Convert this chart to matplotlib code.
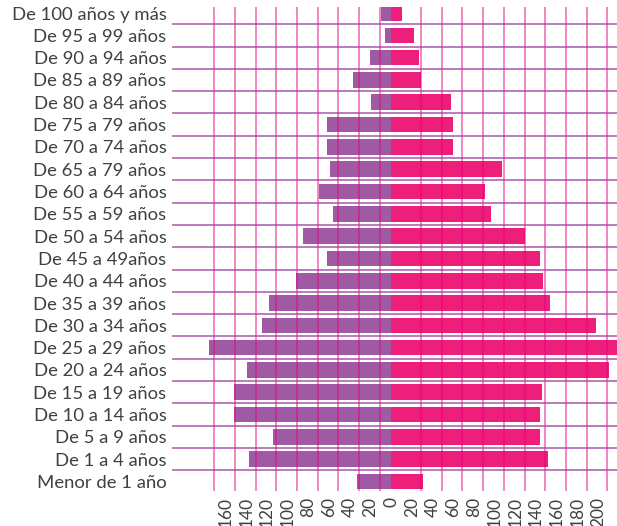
import numpy as np
from matplotlib import pyplot as plt

plt.rcParams['font.family'] = ['Lato', 'DejaVu Sans']

ages = ["De 100 años y más", "De 95 a 99 años", "De 90 a 94 años", "De 85 a 89 años",
        "De 80 a 84 años", "De 75 a 79 años", "De 70 a 74 años", "De 65 a 79 años",
        "De 60 a 64 años", "De 55 a 59 años", "De 50 a 54 años", "De 45 a 49años",
        "De 40 a 44 años", "De 35 a 39 años", "De 30 a 34 años", "De 25 a 29 años",
        "De 20 a 24 años", "De 15 a 19 años", "De 10 a 14 años", "De 5 a 9 años",
        "De 1 a 4 años", "Menor de 1 año"]
# lado izquierdo (morado) y derecho (rosa)
left_vals = [10, 6, 20, 37, 19, 62, 62, 59, 70, 56, 85, 62, 92, 118, 125, 176,
             139, 152, 152, 114, 137, 33]
right_vals = [11, 22, 27, 29, 58, 60, 60, 107, 91, 97, 129, 144, 147, 154, 198, 230,
              211, 146, 144, 144, 152, 31]
tick_vals = list(range(-160, 201, 20))

purple = "#a05aa3"
pink = "#ee1f7b"

fig = plt.figure(figsize=(6.17, 5.26), dpi=100)
ax = fig.add_axes([0.279, 0.0665, 0.721, 0.9205])

y = np.arange(len(ages))
ax.barh(y, [-v for v in left_vals], height=0.7, color=purple, zorder=2)
ax.barh(y, right_vals, height=0.7, color=pink, zorder=2)

# lineas de la cuadricula (desplazadas respecto a las etiquetas, como en el original)
for t in tick_vals:
    gx = t - 11 if t <= 0 else t + 9
    ax.axvline(gx, color="#e6007e", alpha=0.6, lw=1.1, zorder=3)
for i in range(len(ages)):
    ax.axhline(i + 0.5, color="#a040a0", alpha=0.75, lw=1.3, zorder=3)

ax.set_xlim(-211.6, 218.4)
ax.set_ylim(21.43, -0.28)
ax.set_yticks(y)
ax.set_yticklabels(ages, fontsize=13.3, color="#404040")
ax.set_xticks(tick_vals)
ax.set_xticklabels([str(abs(t)) for t in tick_vals], rotation=90, fontsize=12.5,
                   color="#404040")
ax.tick_params(length=0, pad=4)
for s in ["top", "left", "right", "bottom"]:
    ax.spines[s].set_visible(False)

plt.savefig("out.png", dpi=100)
